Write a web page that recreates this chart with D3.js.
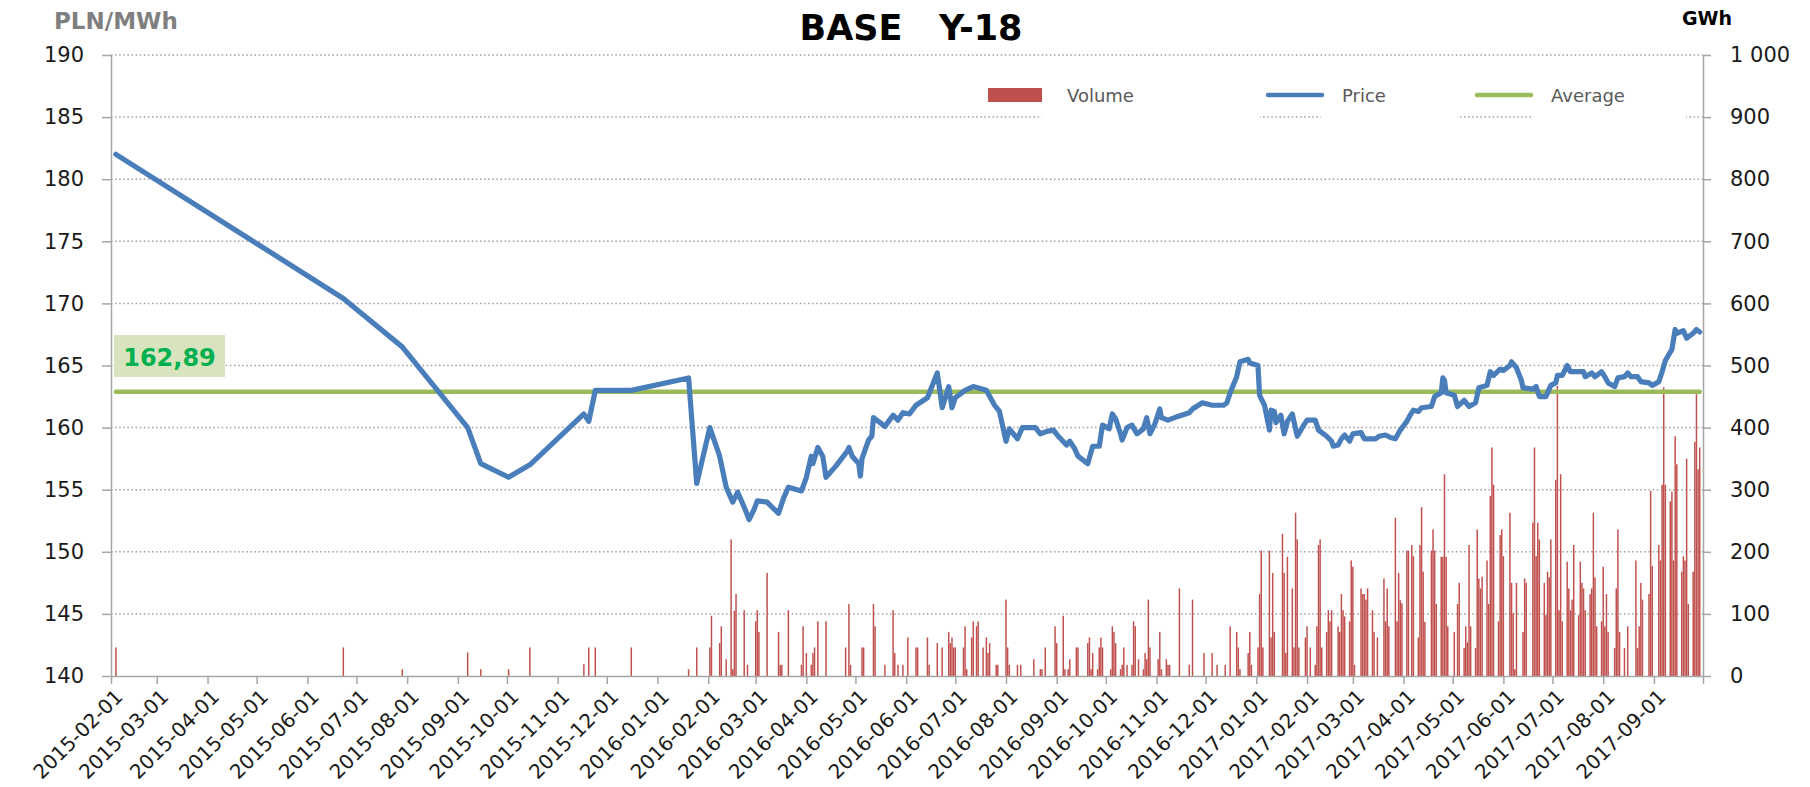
<!DOCTYPE html>
<html>
<head>
<meta charset="utf-8">
<script src="https://cdn.jsdelivr.net/npm/d3@7"></script>
<style>
  body { margin: 0; background: #fff; }
  svg { display: block; }
</style>
</head>
<body>
<svg id="chart" width="1810" height="787"></svg>
<script>
// ---- data ----
const chartTitle = "BASE   Y-18";
const leftUnit = "PLN/MWh";
const rightUnit = "GWh";
const legendLabels = ["Volume", "Price", "Average"];
const priceTicks = [140, 145, 150, 155, 160, 165, 170, 175, 180, 185, 190];
const volumeTicks = [0, 100, 200, 300, 400, 500, 600, 700, 800, 900, 1000];
const axisStart = "2015-02-01";
const axisEnd = "2017-10-01";
const averagePrice = 162.89;

const priceDates = [
  "2015-02-04","2015-06-23","2015-07-29","2015-09-07","2015-09-15","2015-10-02","2015-10-15","2015-11-17","2015-11-20","2015-11-24",
  "2015-12-16","2016-01-20","2016-01-25","2016-02-02","2016-02-08","2016-02-12","2016-02-16","2016-02-19","2016-02-23","2016-02-26",
  "2016-02-29","2016-03-02","2016-03-08","2016-03-11","2016-03-15","2016-03-18","2016-03-21","2016-03-29","2016-04-01","2016-04-04",
  "2016-04-05","2016-04-08","2016-04-11","2016-04-13","2016-04-19","2016-04-26","2016-04-27","2016-04-29","2016-05-03","2016-05-04",
  "2016-05-05","2016-05-09","2016-05-11","2016-05-12","2016-05-19","2016-05-24","2016-05-27","2016-05-30","2016-06-03","2016-06-07",
  "2016-06-14","2016-06-20","2016-06-23","2016-06-27","2016-06-29","2016-07-01","2016-07-07","2016-07-12","2016-07-20","2016-07-25",
  "2016-07-28","2016-08-01","2016-08-03","2016-08-08","2016-08-11","2016-08-19","2016-08-22","2016-08-26","2016-08-30","2016-09-02",
  "2016-09-07","2016-09-09","2016-09-12","2016-09-14","2016-09-16","2016-09-20","2016-09-23","2016-09-27","2016-09-29","2016-10-03",
  "2016-10-05","2016-10-07","2016-10-10","2016-10-11","2016-10-14","2016-10-17","2016-10-20","2016-10-24","2016-10-26","2016-10-28",
  "2016-10-31","2016-11-03","2016-11-04","2016-11-08","2016-11-14","2016-11-21","2016-11-23","2016-11-29","2016-12-05","2016-12-12",
  "2016-12-14","2016-12-16","2016-12-20","2016-12-22","2016-12-27","2016-12-28","2017-01-02","2017-01-03","2017-01-06","2017-01-09",
  "2017-01-10","2017-01-12","2017-01-13","2017-01-16","2017-01-18","2017-01-20","2017-01-23","2017-01-26","2017-01-30","2017-02-01",
  "2017-02-06","2017-02-08","2017-02-13","2017-02-16","2017-02-17","2017-02-20","2017-02-22","2017-02-24","2017-02-27","2017-03-01",
  "2017-03-06","2017-03-08","2017-03-15","2017-03-17","2017-03-21","2017-03-24","2017-03-27","2017-03-30","2017-04-03","2017-04-05",
  "2017-04-07","2017-04-10","2017-04-12","2017-04-18","2017-04-20","2017-04-24","2017-04-25","2017-04-26","2017-04-27","2017-05-02",
  "2017-05-04","2017-05-08","2017-05-11","2017-05-15","2017-05-17","2017-05-22","2017-05-24","2017-05-26","2017-05-30","2017-06-01",
  "2017-06-05","2017-06-06","2017-06-09","2017-06-12","2017-06-13","2017-06-19","2017-06-21","2017-06-23","2017-06-27","2017-06-30",
  "2017-07-03","2017-07-04","2017-07-07","2017-07-10","2017-07-12","2017-07-17","2017-07-20","2017-07-21","2017-07-25","2017-07-27",
  "2017-07-31","2017-08-02","2017-08-04","2017-08-08","2017-08-10","2017-08-14","2017-08-16","2017-08-18","2017-08-22","2017-08-24",
  "2017-08-29","2017-08-31","2017-09-04","2017-09-06","2017-09-08","2017-09-12","2017-09-14","2017-09-15","2017-09-19","2017-09-21",
  "2017-09-25","2017-09-27","2017-09-29"
];
const priceValues = [
  182.0,170.4,166.5,160.0,157.1,156.0,157.0,161.1,160.5,163.0,
  163.0,164.0,155.5,160.0,157.7,155.2,154.0,154.8,153.6,152.6,
  153.4,154.1,154.0,153.6,153.1,154.3,155.2,154.9,156.0,157.7,
  157.1,158.4,157.7,156.0,156.9,158.1,158.4,157.7,157.1,156.1,
  157.5,159.0,159.3,160.8,160.1,161.0,160.6,161.2,161.1,161.8,
  162.4,164.4,161.6,163.3,161.6,162.4,163.0,163.3,163.0,161.8,
  161.3,158.9,159.9,159.1,160.0,160.0,159.5,159.7,159.8,159.3,
  158.6,158.9,158.3,157.7,157.5,157.1,158.5,158.5,160.2,159.9,
  161.1,160.7,159.5,159.0,160.0,160.2,159.5,159.9,160.8,159.5,
  160.3,161.5,160.8,160.6,160.9,161.2,161.5,162.0,161.8,161.8,
  162.0,162.8,164.1,165.3,165.5,165.2,165.0,162.6,161.8,159.8,
  161.4,161.3,160.4,161.0,159.5,160.5,161.1,159.3,160.2,160.6,
  160.6,159.8,159.3,158.9,158.5,158.6,159.1,159.4,158.9,159.5,
  159.6,159.1,159.1,159.3,159.4,159.2,159.1,159.8,160.5,161.0,
  161.4,161.3,161.6,161.7,162.5,162.8,164.0,163.8,162.8,162.6,
  161.7,162.2,161.7,162.0,163.2,163.4,164.5,164.2,164.7,164.6,
  165.0,165.3,164.8,163.8,163.2,163.1,163.3,162.5,162.5,163.4,
  163.6,164.2,164.2,165.0,164.5,164.5,164.5,164.1,164.4,164.1,
  164.5,164.1,163.6,163.3,164.0,164.1,164.4,164.1,164.1,163.7,
  163.6,163.4,163.7,164.5,165.4,166.3,167.9,167.6,167.8,167.2,
  167.6,167.9,167.7
];

const volumeDates = [
  "2015-02-04","2015-06-23","2015-07-29","2015-09-07","2015-09-15","2015-10-02","2015-10-15","2015-11-17","2015-11-20","2015-11-24",
  "2015-12-16","2016-01-20","2016-01-25","2016-02-02","2016-02-03","2016-02-08","2016-02-09","2016-02-12","2016-02-15","2016-02-16",
  "2016-02-17","2016-02-18","2016-02-23","2016-02-25","2016-03-01","2016-03-02","2016-03-03","2016-03-08","2016-03-15","2016-03-16",
  "2016-03-17","2016-03-21","2016-03-29","2016-03-30","2016-04-01","2016-04-04","2016-04-05","2016-04-06","2016-04-08","2016-04-13",
  "2016-04-25","2016-04-27","2016-04-28","2016-05-05","2016-05-06","2016-05-12","2016-05-13","2016-05-19","2016-05-24","2016-05-25",
  "2016-05-27","2016-05-30","2016-06-02","2016-06-07","2016-06-08","2016-06-14","2016-06-15","2016-06-20","2016-06-23","2016-06-27",
  "2016-06-28","2016-06-29","2016-06-30","2016-07-01","2016-07-06","2016-07-07","2016-07-08","2016-07-11","2016-07-12","2016-07-14",
  "2016-07-15","2016-07-18","2016-07-20","2016-07-21","2016-07-22","2016-07-26","2016-07-27","2016-08-01","2016-08-02","2016-08-03",
  "2016-08-08","2016-08-10","2016-08-18","2016-08-22","2016-08-23","2016-08-25","2016-08-31","2016-09-01","2016-09-05","2016-09-06",
  "2016-09-08","2016-09-09","2016-09-13","2016-09-14","2016-09-20","2016-09-21","2016-09-22","2016-09-23","2016-09-26","2016-09-27",
  "2016-09-28","2016-09-29","2016-10-04","2016-10-05","2016-10-06","2016-10-07","2016-10-10","2016-10-11","2016-10-12","2016-10-14",
  "2016-10-17","2016-10-18","2016-10-19","2016-10-21","2016-10-24","2016-10-25","2016-10-26","2016-10-27","2016-10-28","2016-11-02",
  "2016-11-03","2016-11-04","2016-11-07","2016-11-08","2016-11-09","2016-11-15","2016-11-21","2016-11-23","2016-11-30","2016-12-05",
  "2016-12-08","2016-12-13","2016-12-16","2016-12-20","2016-12-21","2016-12-22","2016-12-27","2016-12-28","2016-12-29","2017-01-02",
  "2017-01-03","2017-01-04","2017-01-05","2017-01-09","2017-01-10","2017-01-11","2017-01-12","2017-01-17","2017-01-18","2017-01-19",
  "2017-01-20","2017-01-23","2017-01-24","2017-01-25","2017-01-26","2017-01-27","2017-01-31","2017-02-01","2017-02-03","2017-02-06",
  "2017-02-07","2017-02-08","2017-02-09","2017-02-10","2017-02-13","2017-02-14","2017-02-15","2017-02-16","2017-02-20","2017-02-21",
  "2017-02-22","2017-02-23","2017-02-24","2017-02-27","2017-02-28","2017-03-01","2017-03-02","2017-03-06","2017-03-07","2017-03-08",
  "2017-03-09","2017-03-10","2017-03-13","2017-03-14","2017-03-16","2017-03-20","2017-03-21","2017-03-22","2017-03-23","2017-03-27",
  "2017-03-28","2017-03-29","2017-03-30","2017-03-31","2017-04-03","2017-04-04","2017-04-06","2017-04-07","2017-04-10","2017-04-11",
  "2017-04-12","2017-04-13","2017-04-14","2017-04-18","2017-04-19","2017-04-20","2017-04-21","2017-04-24","2017-04-25","2017-04-26",
  "2017-04-27","2017-04-28","2017-05-02","2017-05-04","2017-05-05","2017-05-08","2017-05-09","2017-05-10","2017-05-11","2017-05-12",
  "2017-05-15","2017-05-16","2017-05-17","2017-05-18","2017-05-19","2017-05-22","2017-05-23","2017-05-24","2017-05-25","2017-05-26",
  "2017-05-29","2017-05-30","2017-05-31","2017-06-01","2017-06-05","2017-06-06","2017-06-07","2017-06-08","2017-06-09","2017-06-13",
  "2017-06-14","2017-06-15","2017-06-19","2017-06-20","2017-06-21","2017-06-22","2017-06-23","2017-06-26","2017-06-27","2017-06-28",
  "2017-06-29","2017-06-30","2017-07-03","2017-07-04","2017-07-05","2017-07-06","2017-07-07","2017-07-10","2017-07-11","2017-07-12",
  "2017-07-13","2017-07-14","2017-07-17","2017-07-18","2017-07-19","2017-07-20","2017-07-21","2017-07-24","2017-07-25","2017-07-26",
  "2017-07-27","2017-07-28","2017-07-31","2017-08-01","2017-08-02","2017-08-03","2017-08-04","2017-08-08","2017-08-09","2017-08-10",
  "2017-08-11","2017-08-14","2017-08-16","2017-08-21","2017-08-22","2017-08-23","2017-08-24","2017-08-25","2017-08-29","2017-08-30",
  "2017-08-31","2017-09-04","2017-09-05","2017-09-06","2017-09-07","2017-09-08","2017-09-11","2017-09-12","2017-09-13","2017-09-14",
  "2017-09-15","2017-09-18","2017-09-19","2017-09-20","2017-09-21","2017-09-22","2017-09-25","2017-09-26","2017-09-27","2017-09-28",
  "2017-09-29"
];
const volumeValues = [
  46,46,11,38,11,11,46,19,46,46,
  46,11,46,46,97,53,80,27,220,11,
  105,132,106,18,88,106,71,166,71,18,
  18,106,18,80,37,18,37,46,88,88,
  46,116,18,46,46,116,80,18,106,37,
  18,18,62,46,46,62,18,53,46,71,
  53,62,46,46,46,80,11,62,88,80,
  88,46,62,37,53,18,18,123,46,18,
  18,18,27,11,11,46,80,53,97,11,
  11,27,46,46,53,62,11,37,11,46,
  62,46,11,80,71,53,11,18,46,18,
  18,88,80,27,11,37,27,123,46,27,
  71,11,27,18,18,141,18,123,37,37,
  18,18,80,71,46,11,37,71,18,46,
  132,202,46,202,62,166,71,229,166,37,
  192,141,46,263,220,46,62,80,46,18,
  80,211,220,46,71,106,88,106,80,71,
  132,106,96,88,186,176,18,141,132,132,
  123,141,106,71,62,157,88,141,80,255,
  88,166,122,117,202,202,211,193,62,211,
  272,168,87,202,236,202,116,192,192,325,
  192,80,71,116,150,45,80,54,211,80,
  45,236,157,141,160,186,116,290,368,308,
  88,227,236,193,263,150,101,11,150,71,
  157,150,247,368,193,247,220,150,98,168,
  159,220,316,467,106,325,88,184,141,106,
  123,211,98,184,150,141,106,132,141,263,
  159,80,88,176,80,132,71,45,141,236,
  71,45,80,186,45,80,150,123,132,298,
  177,211,186,308,465,308,281,297,186,386,
  341,168,193,186,350,116,168,377,454,333,
  368
];

// ---- colours ----
const volumeColor = "#C0504D";
const priceColor = "#4A7EBB";
const averageColor = "#9BBB59";
const axisColor = "#A6A6A6";
const gridColor = "#A0A0A0";

// ---- layout ----
const plot = { left: 111, right: 1703, top: 55, bottom: 676 };
const tickFont = "DejaVu Sans, Verdana, sans-serif";

const parse = d3.utcParse("%Y-%m-%d");
const plLocale = d3.formatLocale({ decimal: ",", thousands: " ", grouping: [3], currency: ["", " zł"] });
const fmtThousands = plLocale.format(",");
const fmtAverage = plLocale.format(",.2f");

const price = priceDates.map((d, i) => ({ date: parse(d), value: priceValues[i] }));
const volume = volumeDates.map((d, i) => ({ date: parse(d), value: volumeValues[i] }));

const x = d3.scaleUtc().domain([parse(axisStart), parse(axisEnd)]).range([plot.left, plot.right]);
const yPrice = d3.scaleLinear().domain([d3.min(priceTicks), d3.max(priceTicks)]).range([plot.bottom, plot.top]);
const yVolume = d3.scaleLinear().domain([d3.min(volumeTicks), d3.max(volumeTicks)]).range([plot.bottom, plot.top]);

const svg = d3.select("#chart");

// horizontal dotted gridlines
svg.append("g").selectAll("line")
  .data(priceTicks.filter(t => t !== d3.min(priceTicks)))
  .join("line")
  .attr("x1", plot.left).attr("x2", plot.right)
  .attr("y1", d => yPrice(d)).attr("y2", d => yPrice(d))
  .attr("stroke", gridColor).attr("stroke-width", 1.5)
  .attr("stroke-dasharray", "1.5,2.6");

// volume bars on the secondary axis
const dayWidth = x(parse("2016-01-02")) - x(parse("2016-01-01"));
const barWidth = dayWidth * 0.9;
svg.append("g").selectAll("rect")
  .data(volume)
  .join("rect")
  .attr("x", d => x(d.date) - barWidth / 2)
  .attr("width", barWidth)
  .attr("y", d => yVolume(d.value))
  .attr("height", d => yVolume(0) - yVolume(d.value))
  .attr("fill", volumeColor);

// average price line across the traded period
const avgLine = d3.line().x(d => x(d.date)).y(() => yPrice(averagePrice));
svg.append("path")
  .datum([price[0], price[price.length - 1]])
  .attr("d", avgLine)
  .attr("fill", "none").attr("stroke", averageColor)
  .attr("stroke-width", 4.5).attr("stroke-linecap", "round");

// price line
const priceLine = d3.line().x(d => x(d.date)).y(d => yPrice(d.value));
svg.append("path")
  .datum(price)
  .attr("d", priceLine)
  .attr("fill", "none").attr("stroke", priceColor)
  .attr("stroke-width", 5.2)
  .attr("stroke-linejoin", "round").attr("stroke-linecap", "round");

// axes
function styleAxis(g) {
  g.selectAll(".domain").attr("stroke", axisColor).attr("stroke-width", 1.5);
  g.selectAll(".tick line").attr("stroke", axisColor).attr("stroke-width", 1.5);
  g.selectAll(".tick text").attr("fill", "#1a1a1a")
    .style("font-family", tickFont).style("font-size", "21px");
}

svg.append("g")
  .attr("transform", `translate(${plot.left},0)`)
  .call(d3.axisLeft(yPrice).tickValues(priceTicks).tickSize(9).tickSizeOuter(0).tickPadding(18).tickFormat(d3.format("d")))
  .call(styleAxis);

svg.append("g")
  .attr("transform", `translate(${plot.right},0)`)
  .call(d3.axisRight(yVolume).tickValues(volumeTicks).tickSize(8).tickSizeOuter(0).tickPadding(19).tickFormat(fmtThousands))
  .call(styleAxis);

const monthTicks = d3.utcMonth.range(parse(axisStart), d3.utcDay.offset(parse(axisEnd), 1));
svg.append("g")
  .attr("transform", `translate(0,${plot.bottom})`)
  .call(d3.axisBottom(x).tickValues(monthTicks).tickSize(8).tickSizeOuter(0).tickFormat(""))
  .call(styleAxis);

// rotated month labels
const fmtDate = d3.utcFormat("%Y-%m-%d");
svg.append("g").selectAll("text")
  .data(monthTicks.slice(0, -1))
  .join("text")
  .attr("transform", d => `translate(${x(d) + 13},${plot.bottom + 22}) rotate(-45)`)
  .attr("text-anchor", "end")
  .attr("fill", "#1a1a1a")
  .style("font-family", tickFont).style("font-size", "20px")
  .text(d => fmtDate(d));

// titles
svg.append("text")
  .attr("x", 911).attr("y", 40)
  .attr("text-anchor", "middle")
  .style("white-space", "pre")
  .style("font-family", "DejaVu Sans, sans-serif").style("font-weight", "bold").style("font-size", "35px")
  .attr("fill", "#000")
  .text(chartTitle);

svg.append("text")
  .attr("x", 54).attr("y", 29)
  .style("font-family", "DejaVu Sans, sans-serif").style("font-weight", "bold").style("font-size", "23px")
  .attr("fill", "#7F7F7F")
  .text(leftUnit);

svg.append("text")
  .attr("x", 1732).attr("y", 25)
  .attr("text-anchor", "end")
  .style("font-family", "DejaVu Sans, sans-serif").style("font-weight", "bold").style("font-size", "19px")
  .attr("fill", "#000")
  .text(rightUnit);

// legend
const legend = svg.append("g");
const legendItems = [
  { label: legendLabels[0], kind: "rect", sx: 988, tx: 1067, bgFrom: 1042, bgTo: 1260, color: volumeColor },
  { label: legendLabels[1], kind: "line", sx: 1268, tx: 1342, bgFrom: 1321, bgTo: 1457, color: priceColor },
  { label: legendLabels[2], kind: "line", sx: 1477, tx: 1551, bgFrom: 1533, bgTo: 1686, color: averageColor }
];
legend.selectAll("rect.bg").data(legendItems).join("rect").attr("class", "bg")
  .attr("x", d => d.bgFrom).attr("width", d => d.bgTo - d.bgFrom)
  .attr("y", 72).attr("height", 50).attr("fill", "#fff");
legendItems.forEach(d => {
  if (d.kind === "rect") {
    legend.append("rect").attr("x", d.sx).attr("y", 88).attr("width", 54).attr("height", 14).attr("fill", d.color);
  } else {
    legend.append("line").attr("x1", d.sx).attr("x2", d.sx + 54).attr("y1", 95).attr("y2", 95)
      .attr("stroke", d.color).attr("stroke-width", 4.5).attr("stroke-linecap", "round");
  }
  legend.append("text").attr("x", d.tx).attr("y", 102)
    .style("font-family", tickFont).style("font-size", "18px")
    .attr("fill", "#595959").text(d.label);
});

// average value badge
const badge = svg.append("g");
badge.append("rect").attr("x", 114).attr("y", 335).attr("width", 111).attr("height", 42).attr("fill", "#D7E4BD");
badge.append("text").attr("x", 169.5).attr("y", 366)
  .attr("text-anchor", "middle")
  .style("font-family", "DejaVu Sans, sans-serif").style("font-weight", "bold").style("font-size", "24px")
  .attr("fill", "#00B050")
  .text(fmtAverage(averagePrice));
</script>
</body>
</html>
